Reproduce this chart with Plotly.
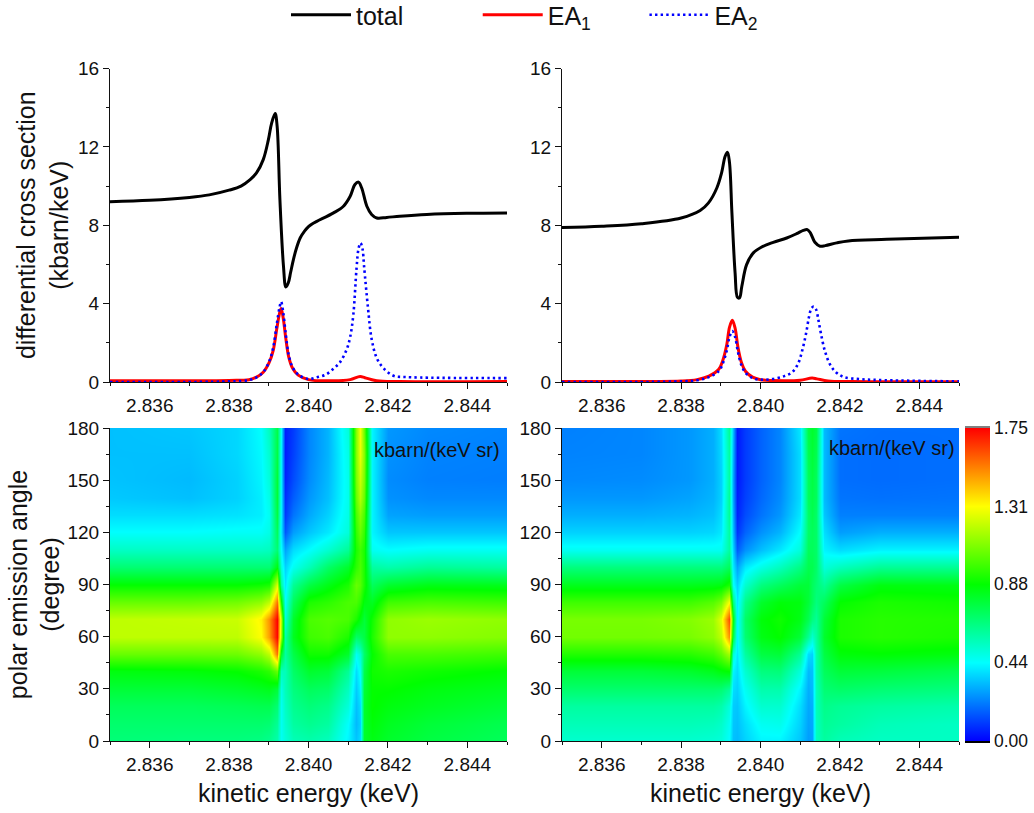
import plotly.graph_objects as go

FONT = "Liberation Sans, Arial, sans-serif"
INK = "#111111"
NB = "\u00a0"

# ---------- line panels ----------
x_total_l = [2.835, 2.836, 2.837, 2.8375, 2.838, 2.8383, 2.83853, 2.83869, 2.83886, 2.83899, 2.83907, 2.83916, 2.83921,
             2.83928, 2.83937, 2.83943, 2.83949, 2.83955, 2.83962, 2.8397, 2.83979, 2.8399, 2.84, 2.8401, 2.84021, 2.84063, 2.84088, 2.84105, 2.84117,
             2.84126, 2.84134, 2.84147, 2.84159, 2.84172, 2.84197, 2.8423, 2.84298, 2.84398, 2.845]
y_total_l = [9.2, 9.27, 9.42, 9.55, 9.79, 10.0, 10.33, 10.67, 11.35, 12.37, 13.2, 13.7, 13.05,
             9.3, 5.9, 4.85, 5.05, 5.6, 6.25, 6.85, 7.35, 7.7, 7.93, 8.08, 8.2, 8.63, 8.97, 9.48, 10.08,
             10.2, 9.9, 8.97, 8.55, 8.37, 8.4, 8.46, 8.55, 8.61, 8.63]

x_ea1_l = [2.835, 2.838, 2.8385, 2.83869, 2.83886, 2.83901, 2.83911, 2.8392, 2.83927, 2.83931, 2.83936, 2.83943, 2.8395,
           2.8396, 2.83974, 2.84, 2.84063, 2.84105, 2.8413, 2.84142, 2.84172, 2.8423, 2.845]
y_ea1_l = [0.06, 0.08, 0.12, 0.25, 0.5, 1.0, 1.6, 2.7, 3.5, 3.75, 3.3, 2.2, 1.3,
           0.7, 0.35, 0.12, 0.06, 0.12, 0.28, 0.22, 0.06, 0.02, 0.02]

x_ea2_l = [2.835, 2.838, 2.8385, 2.83869, 2.83886, 2.83901, 2.83911, 2.8392, 2.83927, 2.83931, 2.83936, 2.83943, 2.8395,
           2.8396, 2.83974, 2.84, 2.84021, 2.84043, 2.84063, 2.84079, 2.84096, 2.84105, 2.84113, 2.84121, 2.84126, 2.84131,
           2.84136, 2.8414, 2.8415, 2.84159, 2.84172, 2.84189, 2.84214, 2.84248, 2.845]
y_ea2_l = [0.0, 0.03, 0.1, 0.24, 0.5, 1.05, 1.75, 2.95, 3.8, 4.1, 3.6, 2.4, 1.4,
           0.75, 0.38, 0.15, 0.24, 0.37, 0.68, 1.0, 1.65, 2.3, 3.45, 5.8, 6.8, 7.1,
           6.8, 5.9, 3.75, 2.2, 1.22, 0.71, 0.32, 0.25, 0.2]

x_total_r = [2.835, 2.836, 2.837, 2.838, 2.83848, 2.83869, 2.8389, 2.83902, 2.83911, 2.83917, 2.83922, 2.83928,
             2.83936, 2.83942, 2.83947, 2.83953, 2.83965, 2.83982, 2.84003, 2.84032, 2.84066, 2.84091, 2.84108,
             2.84118, 2.84126, 2.84137, 2.8415, 2.84163, 2.84192, 2.84221, 2.84318, 2.845]
y_total_r = [7.88, 7.95, 8.08, 8.37, 8.75, 9.14, 9.9, 10.67, 11.52, 11.72, 11.18, 8.63,
             5.57, 4.32, 4.29, 4.89, 5.99, 6.59, 6.89, 7.13, 7.35, 7.57, 7.74,
             7.78, 7.6, 7.13, 6.93, 6.96, 7.1, 7.2, 7.28, 7.39]

x_ea1_r = [2.835, 2.838, 2.8384, 2.8387, 2.83895, 2.83905, 2.83915, 2.83922, 2.83929, 2.83936, 2.83943, 2.83952,
           2.83962, 2.8398, 2.84, 2.8406, 2.841, 2.8413, 2.84142, 2.8417, 2.8423, 2.845]
y_ea1_r = [0.03, 0.05, 0.12, 0.3, 0.65, 1.1, 1.9, 2.8, 3.15, 2.75, 1.8, 1.0,
           0.55, 0.25, 0.12, 0.06, 0.09, 0.2, 0.16, 0.05, 0.02, 0.01]

x_ea2_r = [2.835, 2.838, 2.8384, 2.8387, 2.83895, 2.83905, 2.83915, 2.83922, 2.83929, 2.83936, 2.83943, 2.83952,
           2.83962, 2.8398, 2.84, 2.8403, 2.8406, 2.8408, 2.84095, 2.84105, 2.84115, 2.84122, 2.84128, 2.84134, 2.8414,
           2.84146, 2.84152, 2.84162, 2.84175, 2.8419, 2.8421, 2.8425, 2.843, 2.845]
y_ea2_r = [0.0, 0.03, 0.09, 0.25, 0.55, 0.95, 1.6, 2.3, 2.6, 2.3, 1.55, 0.85,
           0.48, 0.2, 0.12, 0.15, 0.3, 0.5, 0.95, 1.6, 2.5, 3.3, 3.75, 3.85, 3.7,
           3.15, 2.5, 1.6, 0.9, 0.5, 0.25, 0.15, 0.1, 0.03]

# ---------- maps ----------
map_energy = [2.8350, 2.8370, 2.8382, 2.8388, 2.8390, 2.8392, 2.8393, 2.8394, 2.8396, 2.8400,
              2.8405, 2.8410, 2.8412, 2.8413, 2.8414, 2.8416, 2.8420, 2.8430, 2.8450]
map_angle = [0, 10, 20, 30, 40, 50, 60, 70, 80, 90, 100, 110, 120, 130, 140, 150, 165, 180]

map_left = [
    [.67, .66, .66, .65, .63, .58, .46, .50, .56, .58, .55, .42, .34, .38, .80, .84, .80, .76, .72],
    [.69, .69, .69, .69, .68, .62, .46, .52, .60, .63, .60, .44, .32, .36, .80, .86, .82, .78, .74],
    [.72, .72, .73, .74, .74, .68, .46, .54, .63, .67, .64, .50, .33, .38, .80, .88, .85, .82, .78],
    [.78, .78, .80, .82, .83, .78, .48, .56, .66, .72, .70, .55, .35, .42, .78, .88, .88, .85, .82],
    [.85, .86, .88, .92, .95, 1.05, .55, .56, .70, .80, .78, .62, .38, .46, .75, .90, .92, .90, .87],
    [1.05, 1.05, 1.06, 1.12, 1.20, 1.55, .80, .60, .75, .90, .90, .80, .46, .52, .70, .88, 1.00, 1.00, .98],
    [1.20, 1.20, 1.20, 1.31, 1.48, 1.74, 1.15, .58, .82, .98, 1.00, .92, .70, .72, .76, .92, 1.12, 1.12, 1.10],
    [1.20, 1.21, 1.22, 1.33, 1.50, 1.75, 1.20, .50, .80, 1.00, 1.02, 1.00, .92, .85, .78, .90, 1.12, 1.14, 1.12],
    [1.05, 1.05, 1.07, 1.12, 1.20, 1.55, .90, .45, .72, .92, .95, 1.00, 1.00, .95, .85, .82, .98, 1.00, .98],
    [.88, .88, .88, .90, .92, 1.25, .60, .40, .62, .76, .84, .92, 1.05, 1.02, .92, .72, .80, .84, .83],
    [.68, .68, .68, .68, .68, .85, .50, .36, .46, .56, .70, .80, .95, 1.00, .92, .60, .58, .62, .60],
    [.54, .54, .54, .54, .55, .68, .44, .28, .38, .44, .52, .62, .92, .98, .92, .46, .44, .46, .46],
    [.44, .44, .45, .45, .48, .72, .40, .15, .27, .34, .40, .50, .96, 1.05, .96, .42, .34, .34, .34],
    [.38, .38, .39, .41, .46, .76, .42, .10, .20, .29, .36, .48, 1.00, 1.10, 1.00, .42, .28, .27, .27],
    [.345, .33, .36, .41, .48, .78, .42, .08, .16, .26, .33, .47, 1.05, 1.18, 1.05, .42, .25, .235, .235],
    [.335, .32, .36, .42, .50, .78, .42, .06, .13, .24, .32, .47, 1.08, 1.22, 1.08, .42, .24, .22, .215],
    [.33, .33, .37, .43, .52, .76, .42, .05, .11, .23, .31, .48, 1.10, 1.28, 1.10, .42, .25, .225, .22],
    [.33, .34, .37, .44, .55, .75, .44, .05, .10, .23, .31, .50, 1.10, 1.30, 1.05, .42, .26, .235, .225],
]

map_right = [
    [.52, .52, .52, .51, .50, .44, .33, .32, .36, .42, .42, .34, .27, .28, .55, .60, .56, .54, .54],
    [.56, .56, .56, .55, .53, .46, .34, .33, .38, .46, .47, .36, .28, .29, .55, .62, .60, .56, .54],
    [.60, .60, .60, .60, .58, .50, .35, .34, .42, .52, .52, .38, .29, .30, .56, .64, .62, .60, .58],
    [.69, .69, .69, .69, .68, .62, .38, .36, .46, .58, .58, .42, .30, .32, .56, .68, .70, .68, .66],
    [.78, .78, .80, .83, .86, .88, .42, .38, .52, .66, .67, .50, .32, .33, .58, .72, .78, .77, .74],
    [.93, .93, .94, .98, 1.04, 1.15, .50, .40, .60, .76, .78, .62, .38, .36, .58, .76, .86, .87, .85],
    [1.07, 1.07, 1.08, 1.12, 1.20, 1.50, .75, .42, .68, .84, .88, .78, .62, .52, .60, .80, .92, .94, .92],
    [1.08, 1.08, 1.10, 1.14, 1.26, 1.62, .85, .42, .70, .86, .90, .84, .74, .66, .62, .78, .92, .94, .93],
    [.98, .98, .98, 1.02, 1.08, 1.30, .65, .40, .64, .80, .86, .85, .78, .72, .66, .72, .88, .92, .90],
    [.83, .83, .83, .84, .85, .92, .45, .36, .52, .66, .72, .78, .78, .72, .68, .62, .76, .85, .84],
    [.66, .66, .66, .66, .66, .72, .40, .28, .40, .48, .55, .65, .74, .74, .70, .50, .55, .62, .62],
    [.46, .46, .46, .46, .46, .60, .36, .16, .25, .33, .40, .50, .72, .72, .70, .42, .38, .42, .42],
    [.36, .36, .36, .37, .40, .60, .32, .09, .17, .25, .31, .44, .70, .72, .70, .38, .27, .30, .30],
    [.30, .30, .31, .33, .38, .62, .30, .06, .13, .20, .26, .40, .70, .74, .70, .34, .22, .22, .22],
    [.26, .26, .28, .31, .36, .62, .28, .05, .11, .18, .24, .38, .72, .75, .72, .32, .20, .195, .20],
    [.235, .24, .26, .30, .36, .60, .28, .04, .10, .17, .23, .38, .72, .76, .72, .32, .19, .185, .19],
    [.225, .23, .26, .30, .37, .60, .30, .04, .10, .17, .23, .38, .74, .78, .74, .32, .19, .185, .19],
    [.22, .23, .26, .30, .38, .62, .32, .04, .10, .17, .23, .40, .76, .80, .76, .32, .20, .19, .19],
]

energy_major = [2.836, 2.838, 2.840, 2.842, 2.844]
energy_minor = [2.835, 2.837, 2.839, 2.841, 2.843, 2.845]
energy_labels = ["2.836", "2.838", "2.840", "2.842", "2.844"]
sigma_major = [0, 4, 8, 12, 16]
sigma_minor = [2, 6, 10, 14]
angle_major = [0, 30, 60, 90, 120, 150, 180]
angle_minor = [15, 45, 75, 105, 135, 165]
scale_ticks = [0.00, 0.44, 0.88, 1.31, 1.75]

W, H = 1034, 813
def px_x(a, b):
    return [a / W, b / W]
def px_y(top, bottom):
    return [1 - bottom / H, 1 - top / H]

fig = go.Figure()

names = ["total" + NB * 10, "EA<sub>1</sub>" + NB * 7, "EA<sub>2</sub>"]
panels = [("x", "y", x_total_l, y_total_l, x_ea1_l, y_ea1_l, x_ea2_l, y_ea2_l, True),
          ("x2", "y2", x_total_r, y_total_r, x_ea1_r, y_ea1_r, x_ea2_r, y_ea2_r, False)]
for xa, ya, xt, yt, x1, y1, x2, y2, show in panels:
    fig.add_trace(go.Scatter(x=xt, y=yt, xaxis=xa, yaxis=ya, mode="lines", name=names[0],
                             line=dict(color="black", width=3, shape="spline", smoothing=1),
                             showlegend=show, legendgroup="t"))
    fig.add_trace(go.Scatter(x=x1, y=y1, xaxis=xa, yaxis=ya, mode="lines", name=names[1],
                             line=dict(color="#ff0000", width=3, shape="spline", smoothing=1),
                             showlegend=show, legendgroup="a"))
    fig.add_trace(go.Scatter(x=x2, y=y2, xaxis=xa, yaxis=ya, mode="lines", name=names[2],
                             line=dict(color="#0000ff", width=2.6, dash="2.4px,3.2px", shape="spline", smoothing=1),
                             showlegend=show, legendgroup="b"))

for xa, ya, z in [("x3", "y3", map_left), ("x4", "y4", map_right)]:
    fig.add_trace(go.Heatmap(x=map_energy, y=map_angle, z=z, xaxis=xa, yaxis=ya, zsmooth="best",
                             coloraxis="coloraxis", showlegend=False, hoverinfo="skip"))

# colour scale with the small grey / black caps at its ends
cmin, cmax = -0.011, 1.762
def n(v):
    return (v - cmin) / (cmax - cmin)
scale = [[0, "#000000"], [n(0) - 1e-4, "#000000"], [n(0), "#0000ff"], [n(0.4375), "#00ffff"],
         [n(0.875), "#00ff00"], [n(1.3125), "#ffff00"], [n(1.75), "#ff0000"],
         [n(1.75) + 1e-4, "#808080"], [1, "#808080"]]

tick_font = dict(family=FONT, size=19, color=INK)
title_font = dict(family=FONT, size=25, color=INK)

def xaxis(anchor, dom, title=None):
    return dict(domain=dom, anchor=anchor, range=[2.835, 2.845], tickvals=energy_major, ticktext=energy_labels,
                ticks="outside", ticklen=6, tickwidth=1, tickcolor=INK, showline=True, linecolor=INK, linewidth=1,
                showgrid=False, zeroline=False, tickfont=tick_font, layer="above traces", automargin=False,
                minor=dict(tickvals=energy_minor, ticks="outside", ticklen=3, tickwidth=1, tickcolor=INK, showgrid=False),
                title=dict(text=title, font=title_font, standoff=10) if title else None)

def yaxis(anchor, dom, rng, major, minor, title=None, standoff=0):
    return dict(domain=dom, anchor=anchor, range=rng, tickvals=major, ticktext=[str(v) for v in major],
                ticks="outside", ticklen=6, tickwidth=1, tickcolor=INK, showline=True, linecolor=INK, linewidth=1,
                showgrid=False, zeroline=False, tickfont=tick_font, layer="above traces", automargin=False,
                minor=dict(tickvals=minor, ticks="outside", ticklen=3, tickwidth=1, tickcolor=INK, showgrid=False),
                title=dict(text=title, font=title_font, standoff=standoff) if title else None)

dl, dr = px_x(110, 507), px_x(562, 959)
dt, db = px_y(68.5, 382), px_y(428, 741)

fig.update_layout(
    width=W, height=H, margin=dict(l=0, r=0, t=0, b=0, autoexpand=False), paper_bgcolor="white", plot_bgcolor="white",
    font=dict(family=FONT, color=INK),
    xaxis=xaxis("y", dl), xaxis2=xaxis("y2", dr),
    xaxis3=xaxis("y3", dl, "kinetic energy (keV)"), xaxis4=xaxis("y4", dr, "kinetic energy (keV)"),
    yaxis=yaxis("x", dt, [0, 16], sigma_major, sigma_minor, "differential cross section<br>(kbarn/keV)", 2),
    yaxis2=yaxis("x2", dt, [0, 16], sigma_major, sigma_minor),
    yaxis3=yaxis("x3", db, [0, 180], angle_major, angle_minor, "polar emission angle<br>(degree)", 0),
    yaxis4=yaxis("x4", db, [0, 180], angle_major, angle_minor),
    coloraxis=dict(cmin=cmin, cmax=cmax, colorscale=scale,
                   colorbar=dict(x=965 / W, xanchor="left", xpad=0, ypad=0, thickness=25,
                                 lenmode="pixels", len=317, y=1 - 584.5 / H, yanchor="middle",
                                 outlinewidth=0, ticks="", tickvals=scale_ticks, tickformat=".2f",
                                 tickfont=dict(family=FONT, size=17.5, color=INK))),
    legend=dict(orientation="h", x=286 / W, xanchor="left", y=1 - 15 / H, yanchor="middle",
                itemwidth=60, font=dict(family=FONT, size=25, color=INK),
                bgcolor="rgba(0,0,0,0)", traceorder="normal"),
    annotations=[
        dict(text="kbarn/(keV sr)", xref="paper", yref="paper", x=502 / W, y=1 - 450 / H, xanchor="right",
             yanchor="middle", showarrow=False, font=dict(family=FONT, size=20, color=INK)),
        dict(text="kbarn/(keV sr)", xref="paper", yref="paper", x=957 / W, y=1 - 448 / H, xanchor="right",
             yanchor="middle", showarrow=False, font=dict(family=FONT, size=20, color=INK)),
    ],
)

fig.write_html("out.html", config=dict(displayModeBar=False), post_script="document.body.style.margin='0';")
